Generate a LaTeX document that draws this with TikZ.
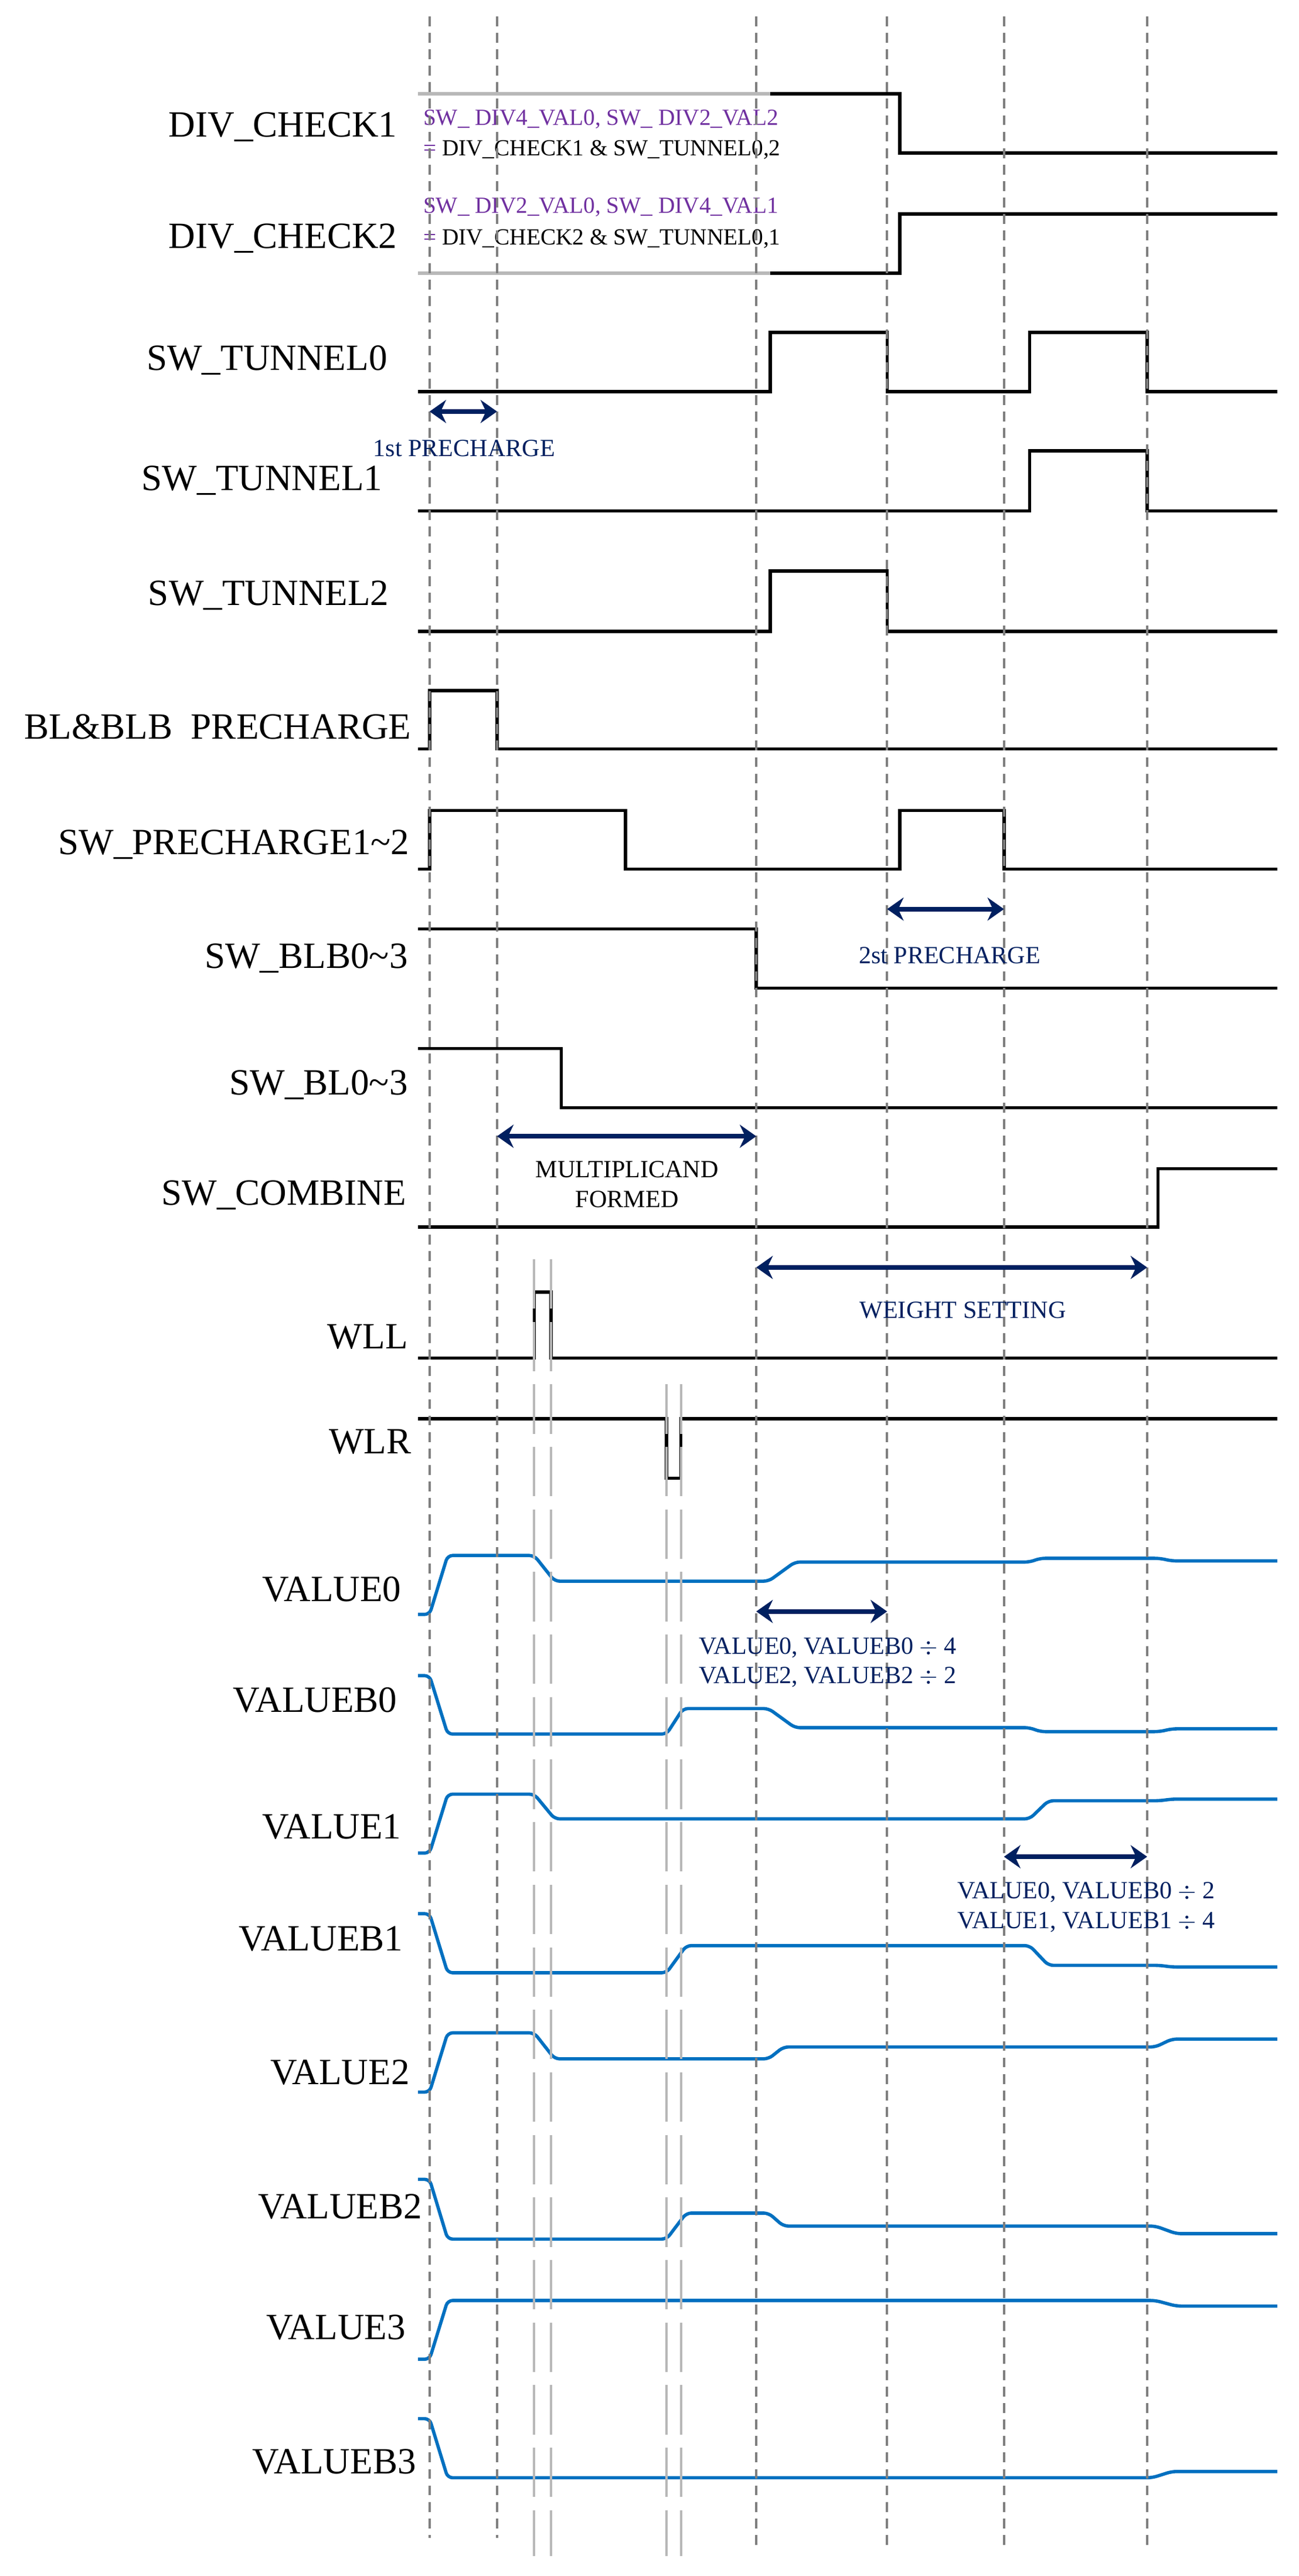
\documentclass[tikz,border=0pt]{standalone}
\usepackage{fontspec}
\setmainfont{Liberation Serif}
\usetikzlibrary{arrows.meta}
\definecolor{wblue}{HTML}{0070C0}
\definecolor{navy}{HTML}{002060}
\definecolor{purp}{HTML}{7030A0}
\definecolor{vgray}{HTML}{7F7F7F}
\definecolor{lgray}{HTML}{B8B8B8}
\begin{document}
\begin{tikzpicture}[x=1pt,y=-1pt,
  sig/.style={line width=2pt,black},
  ana/.style={line width=2pt,wblue,rounded corners=3pt},
  lbl/.style={anchor=east,inner sep=0pt,font=\fontsize{22.5}{24}\selectfont},
  note/.style={inner sep=0pt,text=navy,font=\fontsize{15}{18}\selectfont,align=center},
  dim/.style={line width=2.8pt,navy,{Stealth[length=10pt,width=14pt]}-{Stealth[length=10pt,width=14pt]}},
  vline/.style={vgray,line width=1.5pt,dash pattern=on 6pt off 4pt},
  wline/.style={lgray,line width=1.4pt,dash pattern=on 30pt off 8pt}]
\useasboundingbox[fill=white] (0,0) rectangle (789,1565);
% ---- labels
\node[lbl] (l1) at (241.5,77) {DIV\_CHECK1};
\node[lbl] (l2) at (241.5,145) {DIV\_CHECK2};
\node[lbl] (l3) at (235.5,219) {SW\_TUNNEL0};
\node[lbl] (l4) at (232.5,292) {SW\_TUNNEL1};
\node[lbl] (l5) at (236.5,361.6) {SW\_TUNNEL2};
\node[lbl] (l6) at (250,441.4) {BL\&BLB\ \ PRECHARGE};
\node[lbl] (l7) at (249,513) {SW\_PRECHARGE1\textasciitilde 2};
\node[lbl] (l8) at (248,582) {SW\_BLB0\textasciitilde 3};
\node[lbl] (l9) at (248,659) {SW\_BL0\textasciitilde 3};
\node[lbl] (l10) at (247,726) {SW\_COMBINE};
\node[lbl] (l11) at (248,812) {WLL};
\node[lbl] (l12) at (250,876) {WLR};
\node[lbl] (l13) at (244,965.6) {VALUE0};
\node[lbl] (l14) at (241.5,1033) {VALUEB0};
\node[lbl] (l15) at (244,1110) {VALUE1};
\node[lbl] (l16) at (245,1178) {VALUEB1};
\node[lbl] (l17) at (249,1259) {VALUE2};
\node[lbl] (l18) at (256.7,1340.5) {VALUEB2};
\node[lbl] (l19) at (246.6,1414) {VALUE3};
\node[lbl] (l20) at (253,1495.4) {VALUEB3};
% ---- formula notes
\node[anchor=west,inner sep=0pt,font=\fontsize{14}{16}\selectfont,text=purp] (f1) at (257,72.5) {SW\_ DIV4\_VAL0, SW\_ DIV2\_VAL2};
\node[anchor=west,inner sep=0pt,font=\fontsize{14}{16}\selectfont] (f2) at (257,91) {\textcolor{purp}{=} DIV\_CHECK1 \& SW\_TUNNEL0,2};
\node[anchor=west,inner sep=0pt,font=\fontsize{14}{16}\selectfont,text=purp] (f3) at (257,126) {SW\_ DIV2\_VAL0, SW\_ DIV4\_VAL1};
\node[anchor=west,inner sep=0pt,font=\fontsize{14}{16}\selectfont] (f4) at (257,145) {\textcolor{purp}{=} DIV\_CHECK2 \& SW\_TUNNEL0,1};
% ---- digital waveforms
\draw[lgray,line width=2pt] (254,57) -- (468,57);
\draw[sig] (468,57) -- (546.6,57) -- (546.6,93) -- (776,93);
\draw[lgray,line width=2pt] (254,166) -- (468,166);
\draw[sig] (468,166) -- (546.6,166) -- (546.6,130) -- (776,130);
\draw[sig] (254,238) -- (468,238) -- (468,202) -- (539,202) -- (539,238) -- (625.6,238) -- (625.6,202) -- (697,202) -- (697,238) -- (776,238);
\draw[sig] (254,310.4) -- (625.6,310.4) -- (625.6,274) -- (697,274) -- (697,310.4) -- (776,310.4);
\draw[sig] (254,383.5) -- (468,383.5) -- (468,347) -- (539,347) -- (539,383.5) -- (776,383.5);
\draw[sig] (254,455) -- (261,455) -- (261,419.5) -- (302,419.5) -- (302,455) -- (776,455);
\draw[sig] (254,528) -- (261,528) -- (261,492.4) -- (380,492.4) -- (380,528) -- (546.6,528) -- (546.6,492.4) -- (610,492.4) -- (610,528) -- (776,528);
\draw[sig] (254,564.3) -- (459.5,564.3) -- (459.5,600.3) -- (776,600.3);
\draw[sig] (254,637) -- (341,637) -- (341,673) -- (776,673);
\draw[sig] (254,745.4) -- (703.6,745.4) -- (703.6,710) -- (776,710);
\draw[sig] (254,825) -- (324.6,825) -- (324.6,785) -- (334.7,785) -- (334.7,825) -- (776,825);
\draw[sig] (254,862) -- (405,862) -- (405,898) -- (413.7,898) -- (413.7,862) -- (776,862);
% ---- analog waveforms
\draw[ana] (254,980.8) -- (261,980.8) -- (272,945) -- (324.6,945) -- (337,960.6) -- (467,960.6) -- (483,949) -- (625.6,949) -- (632,946.7) -- (704.6,946.7) -- (712,948.3) -- (776,948.3);
\draw[ana] (254,1018) -- (261,1018) -- (272,1053.5) -- (405,1053.5) -- (415,1038) -- (467,1038) -- (483,1049.6) -- (625.6,1049.6) -- (632,1052) -- (704.6,1052) -- (712,1050.3) -- (776,1050.3);
\draw[ana] (254,1125.8) -- (261,1125.8) -- (272,1090) -- (324.6,1090) -- (337,1105) -- (625.6,1105) -- (637,1094) -- (704.6,1094) -- (712,1093) -- (776,1093);
\draw[ana] (254,1162.6) -- (261,1162.6) -- (272,1198.5) -- (405,1198.5) -- (417,1182) -- (625.6,1182) -- (637,1194) -- (704.6,1194) -- (712,1195) -- (776,1195);
\draw[ana] (254,1271) -- (261,1271) -- (272,1235) -- (324.6,1235) -- (337,1250.8) -- (467,1250.8) -- (476,1243.6) -- (702,1243.6) -- (712,1238.8) -- (776,1238.8);
\draw[ana] (254,1324) -- (261,1324) -- (272,1360.3) -- (405,1360.3) -- (417,1344.5) -- (467,1344.5) -- (476,1352.4) -- (702,1352.4) -- (714.7,1357) -- (776,1357);
\draw[ana] (254,1433.3) -- (261,1433.3) -- (272,1397.6) -- (702,1397.6) -- (714.7,1401) -- (776,1401);
\draw[ana] (254,1469.4) -- (261,1469.4) -- (272,1505.3) -- (700,1505.3) -- (712,1501.5) -- (776,1501.5);
% ---- timing verticals
\foreach \x/\b in {261/1542,302/1542,459.5/1546,539/1546,610/1546,697/1546}
  \draw[vline] (\x,10) -- (\x,\b);
\foreach \x in {324.6,334.7} \draw[wline] (\x,765) -- (\x,1553);
\foreach \x in {405,413.7} \draw[wline] (\x,841) -- (\x,1553);
% ---- dimension arrows
\coordinate (a1) at (261,250); \coordinate (b1) at (302,250);
\draw[dim] (a1) -- (b1);
\node[note] (n1) at (282,272.5) {1st PRECHARGE};
\coordinate (a2) at (539,552.3); \coordinate (b2) at (610,552.3);
\draw[dim] (a2) -- (b2);
\node[note] (n2) at (577,580.4) {2st PRECHARGE};
\coordinate (a3) at (302,690.3); \coordinate (b3) at (459.5,690.3);
\draw[dim] (a3) -- (b3);
\node[note,text=black] (n3) at (381,719.5) {MULTIPLICAND\\FORMED};
\coordinate (a4) at (459.5,770); \coordinate (b4) at (697,770);
\draw[dim] (a4) -- (b4);
\node[note] (n4) at (585,796) {WEIGHT SETTING};
\coordinate (a5) at (459.5,979); \coordinate (b5) at (539,979);
\draw[dim] (a5) -- (b5);
\node[note] (n5) at (503,1010) {VALUE0, VALUEB0 $\div$ 4\\VALUE2, VALUEB2 $\div$ 2};
\coordinate (a6) at (610,1128); \coordinate (b6) at (697,1128);
\draw[dim] (a6) -- (b6);
\node[note] (n6) at (660,1158.7) {VALUE0, VALUEB0 $\div$ 2\\VALUE1, VALUEB1 $\div$ 4};
\end{tikzpicture}
\end{document}
